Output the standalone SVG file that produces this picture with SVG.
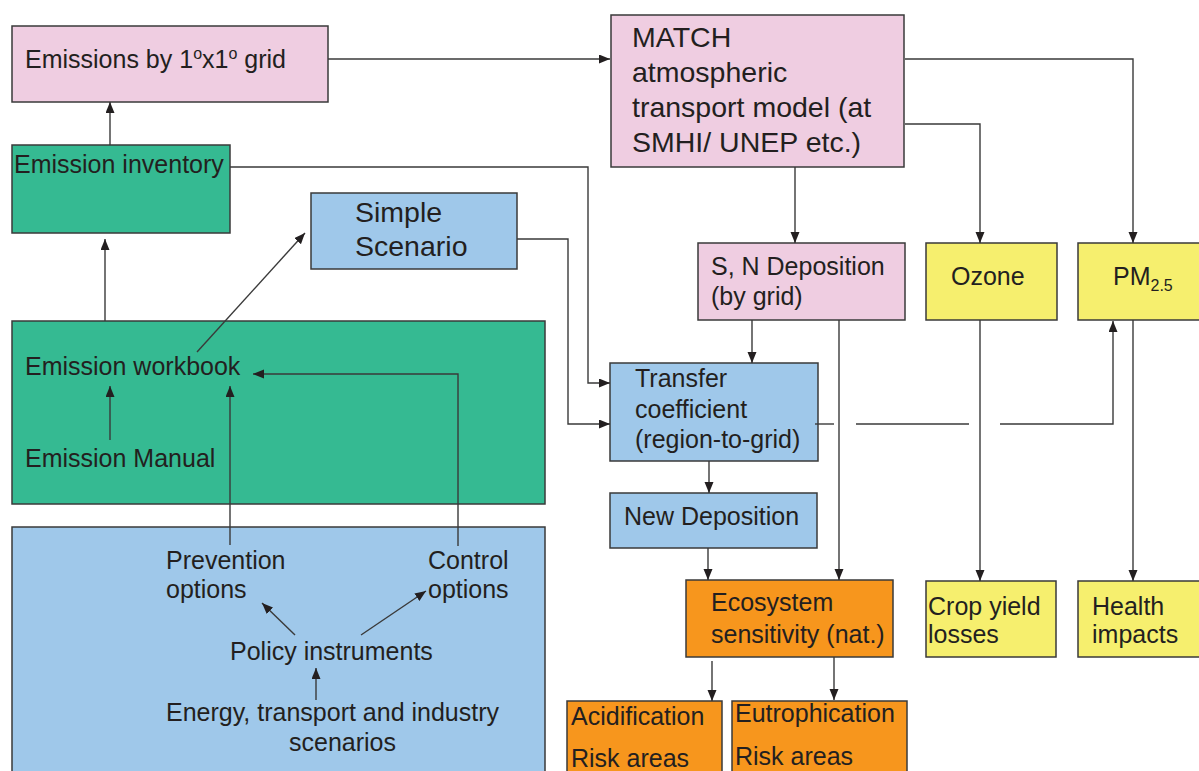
<svg xmlns="http://www.w3.org/2000/svg" width="1199" height="771" viewBox="0 0 1199 771">
<style>
text{font-family:"Liberation Sans",Arial,sans-serif;font-size:25px;fill:#231f20}
text.big{font-size:28.5px}
.pink{fill:#efcde1;stroke:#3a3a3a;stroke-width:1.5}
.green{fill:#35ba92;stroke:#3a3a3a;stroke-width:1.5}
.blue{fill:#9fc8ea;stroke:#3a3a3a;stroke-width:1.5}
.yellow{fill:#f6ef6e;stroke:#3a3a3a;stroke-width:1.5}
.orange{fill:#f7961d;stroke:#3a3a3a;stroke-width:1.5}
.c path{fill:none;stroke:#3a3a3a;stroke-width:1.4}
.c path.a{marker-end:url(#ah)}
</style>
<defs>
<marker id="ah" markerUnits="userSpaceOnUse" markerWidth="12" markerHeight="10" refX="11" refY="4.5" orient="auto">
<path d="M0,0 L11,4.5 L0,9 z" fill="#231f20"/>
</marker>
</defs>
<rect width="1199" height="771" fill="#ffffff"/>

<g id="emissions-grid">
<rect class="pink" x="12" y="26" width="316" height="76"/>
<text x="25" y="68">Emissions by 1<tspan font-size="16" dy="-9">o</tspan><tspan dy="9">x1</tspan><tspan font-size="16" dy="-9">o</tspan><tspan dy="9"> grid</tspan></text>
</g>

<g id="emission-inventory">
<rect class="green" x="12" y="145" width="218" height="88"/>
<text x="14" y="173">Emission inventory</text>
</g>

<g id="simple-scenario">
<rect class="blue" x="311" y="193" width="206" height="76"/>
<text class="big" x="355" y="222">Simple</text>
<text class="big" x="355" y="256">Scenario</text>
</g>

<g id="workbook-block">
<rect class="green" x="12" y="321" width="533" height="183"/>
<text x="25" y="375">Emission workbook</text>
<text x="25" y="467">Emission Manual</text>
</g>

<g id="options-block">
<rect class="blue" x="12" y="527" width="533" height="260"/>
<text x="166" y="569">Prevention</text>
<text x="166" y="598">options</text>
<text x="428" y="569">Control</text>
<text x="428" y="598">options</text>
<text x="230" y="660">Policy instruments</text>
<text x="166" y="721">Energy, transport and industry</text>
<text x="289" y="751">scenarios</text>
</g>

<g id="match">
<rect class="pink" x="611" y="15" width="293" height="152"/>
<text class="big" x="632" y="47">MATCH</text>
<text class="big" x="632" y="82">atmospheric</text>
<text class="big" x="632" y="117">transport model (at</text>
<text class="big" x="632" y="152">SMHI/ UNEP etc.)</text>
</g>

<g id="sn-deposition">
<rect class="pink" x="698" y="243" width="207" height="77"/>
<text x="711" y="275">S, N Deposition</text>
<text x="711" y="305">(by grid)</text>
</g>

<g id="ozone">
<rect class="yellow" x="926" y="243" width="131" height="77"/>
<text x="951" y="285">Ozone</text>
</g>

<g id="pm25">
<rect class="yellow" x="1078" y="243" width="130" height="77"/>
<text x="1113" y="285">PM<tspan font-size="16" dy="6">2.5</tspan></text>
</g>

<g id="transfer-coefficient">
<rect class="blue" x="610" y="363" width="208" height="98"/>
<text x="635" y="387">Transfer</text>
<text x="635" y="418">coefficient</text>
<text x="635" y="448">(region-to-grid)</text>
</g>

<g id="new-deposition">
<rect class="blue" x="610" y="493" width="207" height="55"/>
<text x="624" y="525">New Deposition</text>
</g>

<g id="ecosystem">
<rect class="orange" x="686" y="580" width="207" height="77"/>
<text x="711" y="611">Ecosystem</text>
<text x="711" y="643">sensitivity (nat.)</text>
</g>

<g id="crop-yield">
<rect class="yellow" x="926" y="581" width="130" height="76"/>
<text x="928" y="615">Crop yield</text>
<text x="928" y="643">losses</text>
</g>

<g id="health">
<rect class="yellow" x="1078" y="581" width="130" height="76"/>
<text x="1092" y="615">Health</text>
<text x="1092" y="643">impacts</text>
</g>

<g id="acidification">
<rect class="orange" x="567" y="701" width="155" height="90"/>
<text x="571" y="725">Acidification</text>
<text x="571" y="767">Risk areas</text>
</g>

<g id="eutrophication">
<rect class="orange" x="732" y="701" width="175" height="90"/>
<text x="735" y="722">Eutrophication</text>
<text x="735" y="765">Risk areas</text>
</g>

<g id="connectors" class="c">
<path class="a" d="M328,59 H610"/>
<path class="a" d="M110,145 V102"/>
<path class="a" d="M105,321 V239"/>
<path class="a" d="M230,167 H588 V383 H610"/>
<path class="a" d="M517,239 H568 V424 H610"/>
<path class="a" d="M197,352 L305,233"/>
<path class="a" d="M110,440 V386"/>
<path class="a" d="M230,545 V386"/>
<path class="a" d="M458,546 V374 H253"/>
<path class="a" d="M295,635 L262,603"/>
<path class="a" d="M361,635 L426,591"/>
<path class="a" d="M316,700 V668"/>
<path class="a" d="M905,59 H1133 V243"/>
<path class="a" d="M905,124 H980 V243"/>
<path class="a" d="M795,167 V243"/>
<path class="a" d="M752,320 V363"/>
<path class="a" d="M839,320 V580"/>
<path class="a" d="M980,320 V581"/>
<path class="a" d="M1133,320 V581"/>
<path d="M815,424 H834"/>
<path d="M856,424 H969"/>
<path class="a" d="M1000,424 H1113 V321"/>
<path class="a" d="M709,461 V493"/>
<path class="a" d="M708,548 V580"/>
<path class="a" d="M712,661 V701"/>
<path class="a" d="M834,657 V700"/>
</g>
</svg>
